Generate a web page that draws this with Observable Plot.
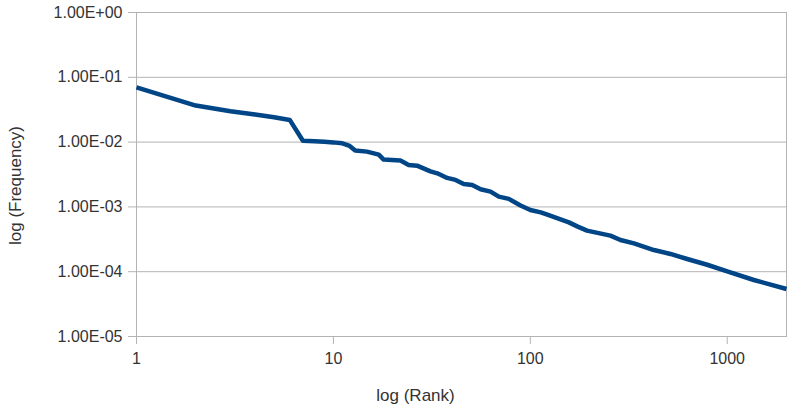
<!DOCTYPE html>
<html>
<head>
<meta charset="utf-8">
<script src="https://cdn.jsdelivr.net/npm/d3@7"></script>
<script src="https://cdn.jsdelivr.net/npm/@observablehq/plot@0.6"></script>
<style>
  html, body { margin: 0; padding: 0; background: #fff; }
  #chart { width: 788px; height: 405px; }
</style>
</head>
<body>
<div id="chart"></div>
<script>
// Rank (x) and relative frequency (y)
const ranks = [1, 2, 3, 4, 5, 6, 7, 8, 9, 10, 11.1, 12, 12.9, 14.8, 17, 18, 21.9, 24.1, 26.6, 31.1, 33.7, 37.8, 41.7, 45.9, 50.7, 55.9, 62.8, 69.2, 77.8, 89.2, 100, 113, 122, 157, 173, 194, 255, 287, 336, 424, 515, 626, 791, 1000, 1365, 2000];
const freqs = [0.070, 0.0366, 0.0299, 0.0266, 0.0242, 0.0220, 0.0105, 0.0103, 0.0101, 0.0099, 0.00958, 0.00883, 0.00739, 0.00713, 0.00641, 0.00537, 0.00518, 0.00444, 0.00433, 0.00354, 0.00330, 0.00280, 0.00261, 0.00226, 0.00218, 0.00187, 0.00172, 0.00144, 0.00133, 0.00105, 0.000897, 0.000823, 0.000759, 0.000577, 0.000501, 0.000430, 0.000360, 0.000309, 0.000274, 0.000216, 0.000188, 0.000157, 0.000128, 0.000101, 0.0000745, 0.0000541];

const xTicks = [1, 10, 100, 1000];
const xTickLabels = ["1", "10", "100", "1000"];
const yTicks = [1, 0.1, 0.01, 0.001, 0.0001, 0.00001];
const yTickLabels = ["1.00E+00", "1.00E-01", "1.00E-02", "1.00E-03", "1.00E-04", "1.00E-05"];
const xTitle = "log (Rank)";
const yTitle = "log (Frequency)";

const data = ranks.map((r, i) => ({rank: r, freq: freqs[i]}));
const gridColor = "#b3b3b3";
const textColor = "#333333";

const chart = Plot.plot({
  width: 788,
  height: 405,
  marginLeft: 136,
  marginRight: 2,
  marginTop: 12,
  marginBottom: 69,
  style: {fontFamily: "'Liberation Sans', Arial, sans-serif", fontSize: "16px", color: textColor, background: "#fff"},
  x: {type: "log", domain: [1, 2000]},
  y: {type: "log", domain: [0.00001, 1]},
  marks: [
    Plot.gridY(yTicks, {stroke: gridColor, strokeOpacity: 1, strokeWidth: 1}),
    Plot.frame({stroke: gridColor, strokeWidth: 1}),
    Plot.axisY({
      ticks: yTicks,
      tickFormat: d => yTickLabels[yTicks.findIndex(t => Math.abs(t - d) / t < 1e-9)],
      tickSize: 8, tickPadding: 6,
      stroke: gridColor, fill: textColor, label: null, fontSize: 16
    }),
    Plot.axisX({
      ticks: xTicks,
      tickFormat: d => xTickLabels[xTicks.findIndex(t => Math.abs(t - d) / t < 1e-9)],
      tickSize: 8, tickPadding: 8,
      stroke: gridColor, fill: textColor, label: null, fontSize: 16
    }),
    Plot.line(data, {x: "rank", y: "freq", stroke: "#004586", strokeWidth: 4.5, strokeLinejoin: "round", strokeLinecap: "butt"}),
    Plot.text([xTitle], {frameAnchor: "bottom", dx: -46, dy: 59, fontSize: 17, fill: textColor, lineAnchor: "middle", textAnchor: "middle"}),
    Plot.text([yTitle], {frameAnchor: "left", dx: -121, dy: 11, rotate: -90, fontSize: 17, fill: textColor, lineAnchor: "middle", textAnchor: "middle"})
  ]
});
document.getElementById("chart").appendChild(chart);
</script>
</body>
</html>
